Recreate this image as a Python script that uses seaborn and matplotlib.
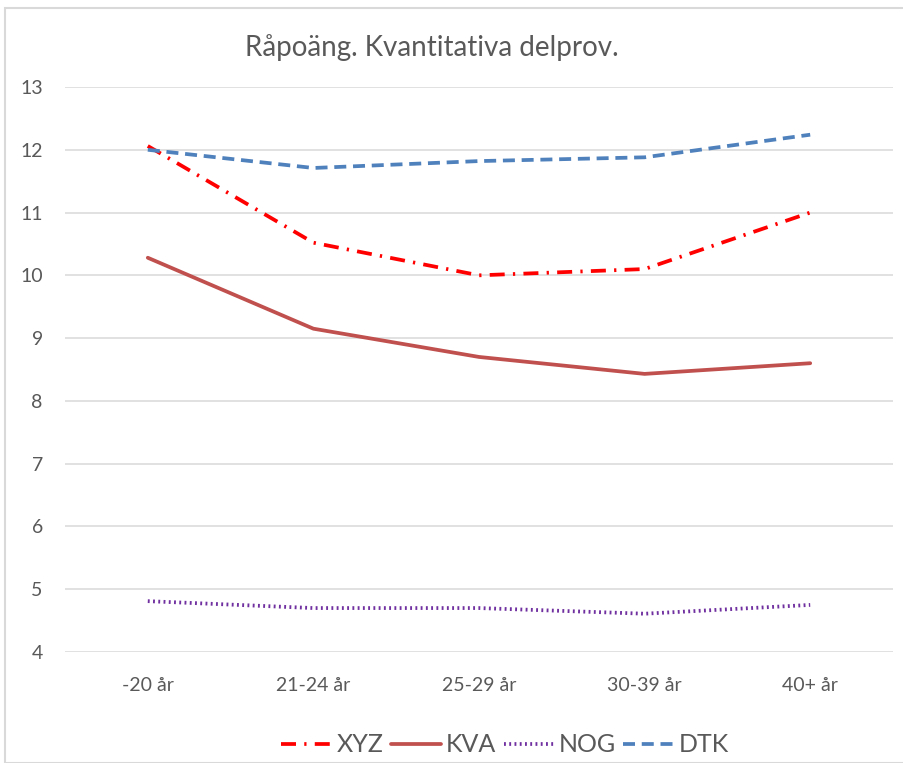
import matplotlib
matplotlib.use("Agg")
import matplotlib.pyplot as plt
import seaborn as sns
import pandas as pd
from matplotlib.patches import Rectangle

categories = ["-20 år", "21-24 år", "25-29 år", "30-39 år", "40+ år"]
xyz = [12.06, 10.52, 10.00, 10.10, 11.00]
kva = [10.28, 9.15, 8.70, 8.43, 8.60]
nog = [4.81, 4.70, 4.70, 4.61, 4.75]
dtk = [12.00, 11.71, 11.82, 11.88, 12.24]
series_names = ["XYZ", "KVA", "NOG", "DTK"]
yticks = [4, 5, 6, 7, 8, 9, 10, 11, 12, 13]
title = "Råpoäng. Kvantitativa delprov."

rows = []
for name, vals in zip(series_names, [xyz, kva, nog, dtk]):
    for c, v in zip(categories, vals):
        rows.append({"Ålder": c, "Poäng": v, "Serie": name})
df = pd.DataFrame(rows)

sns.set_theme(style="white")
plt.rcParams["font.family"] = ["Lato", "DejaVu Sans"]

fig = plt.figure(figsize=(9.04, 7.63), dpi=100)
ax = fig.add_axes([65 / 904, 1 - 652 / 763, (893 - 65) / 904, (652 - 87) / 763])

palette = {"XYZ": "#FF0000", "KVA": "#C0504D", "NOG": "#7030A0", "DTK": "#4F81BD"}
dashes = {"XYZ": (4, 2.2, 0.6, 2.2), "KVA": "", "NOG": (0.5, 0.9), "DTK": (3.2, 1.8)}

sns.lineplot(data=df, x="Ålder", y="Poäng", hue="Serie", style="Serie",
             palette=palette, dashes=dashes, linewidth=2.7, ax=ax,
             sort=False, legend=True)

ax.set_xlim(-0.5, 4.5)
ax.set_ylim(4, 13)
ax.set_yticks(yticks)
ax.set_yticklabels([str(t) for t in yticks])
ax.yaxis.grid(True, color="#D9D9D9", linewidth=1.1)
ax.xaxis.grid(False)
ax.set_axisbelow(True)
for s in ax.spines.values():
    s.set_visible(False)
ax.set_xlabel("")
ax.set_ylabel("")
ax.tick_params(axis="both", length=0, labelsize=14, colors="#595959")
ax.tick_params(axis="y", pad=16)
ax.tick_params(axis="x", pad=18)

fig.text(432 / 904, 1 - 48 / 763, title, ha="center", va="center",
         fontsize=20, color="#595959")

handles, labels = ax.get_legend_handles_labels()
ax.legend(handles, labels, loc="center", bbox_to_anchor=(505 / 904, 1 - 745 / 763),
          bbox_transform=fig.transFigure, ncol=4, frameon=False,
          fontsize=18, handlelength=2.0, handletextpad=0.2, columnspacing=0.3,
          labelcolor="#595959")

fig.patches.append(Rectangle((5 / 904, 0), 1, 1 - 8 / 763, transform=fig.transFigure,
                             fill=False, edgecolor="#D9D9D9", linewidth=1.5))

fig.savefig("out.png", dpi=100)
